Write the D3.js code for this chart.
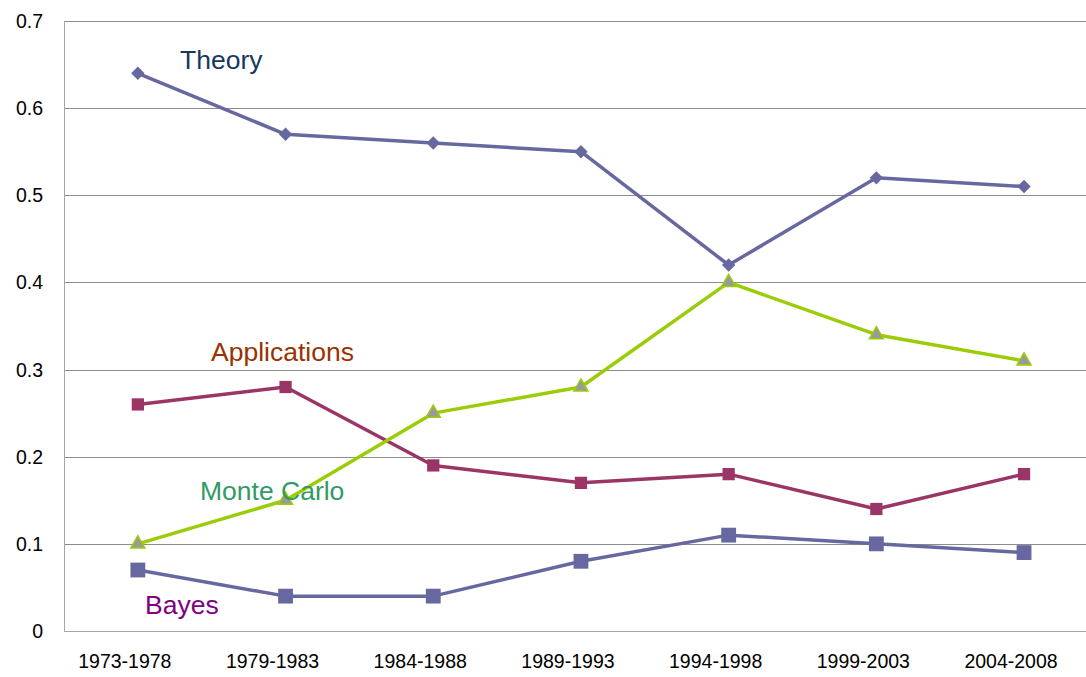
<!DOCTYPE html>
<html>
<head>
<meta charset="utf-8">
<script src="https://cdn.jsdelivr.net/npm/d3@7"></script>
<style>
  body { margin: 0; background: #fff; }
  svg { display: block; font-family: "Liberation Sans", Arial, sans-serif; }
</style>
</head>
<body>
<svg id="chart" width="1086" height="677"></svg>
<script>
// periods along the x axis
var periods = ["1973-1978", "1979-1983", "1984-1988", "1989-1993", "1994-1998", "1999-2003", "2004-2008"];
var yTicks = [0, 0.1, 0.2, 0.3, 0.4, 0.5, 0.6, 0.7];

var theory = [0.64, 0.57, 0.56, 0.55, 0.42, 0.52, 0.51];
var applications = [0.26, 0.28, 0.19, 0.17, 0.18, 0.14, 0.18];
var monteCarlo = [0.10, 0.15, 0.25, 0.28, 0.40, 0.34, 0.31];
var bayes = [0.07, 0.04, 0.04, 0.08, 0.11, 0.10, 0.09];

var svg = d3.select("#chart");
var plotLeft = 64, plotTop = 21, plotBottom = 631;
// plot runs a little past the right edge, like the original
var plotRight = 64 + 147.7 * 7;

var x = d3.scaleBand().domain(periods).range([plotLeft, plotRight]);
var y = d3.scaleLinear().domain([0, 0.7]).range([plotBottom, plotTop]);

/**
 * Gridlines and axis lines.
 */
svg.append("g").selectAll("line").data(yTicks).join("line")
    .attr("x1", plotLeft).attr("x2", plotRight)
    .attr("y1", function (d) { return Math.round(y(d)) + 0.5; })
    .attr("y2", function (d) { return Math.round(y(d)) + 0.5; })
    .attr("stroke", function (d) { return d === 0 ? "#a6a6a6" : "#8c8c8c"; })
    .attr("stroke-width", 1);
svg.append("line")
    .attr("x1", plotLeft + 0.5).attr("x2", plotLeft + 0.5)
    .attr("y1", plotTop).attr("y2", plotBottom + 0.5)
    .attr("stroke", "#a6a6a6");

/**
 * Tick labels. The category labels sit a bit left of their markers.
 */
svg.append("g").selectAll("text").data(yTicks).join("text")
    .attr("x", 43).attr("y", function (d) { return y(d) + 7; })
    .attr("text-anchor", "end")
    .attr("font-size", 19.5)
    .text(function (d) { return d === 0 ? "0" : d3.format(".1f")(d); });

svg.append("g").selectAll("text").data(periods).join("text")
    .attr("x", function (d) { return x(d) + x.bandwidth() / 2 - 13; })
    .attr("y", 668)
    .attr("text-anchor", "middle")
    .attr("font-size", 19.5)
    .text(function (d) { return d; });

/**
 * Series lines and markers.
 */
var series = [
    { values: theory, line: "#6868a0", fill: "#6868a0", stroke: "none", symbol: d3.symbolSquare, size: 90, rotate: 45 },
    { values: applications, line: "#9b3565", fill: "#9b3565", stroke: "none", symbol: d3.symbolSquare, size: 150, rotate: 0 },
    { values: monteCarlo, line: "#9acd07", fill: "#9a9a9a", stroke: "#9acd07", symbol: d3.symbolTriangle, size: 85, rotate: 0 },
    { values: bayes, line: "#6868a0", fill: "#6868a0", stroke: "none", symbol: d3.symbolSquare, size: 220, rotate: 0 }
];

var line = d3.line()
    .x(function (d, i) { return x(periods[i]) + x.bandwidth() / 2; })
    .y(function (d) { return y(d); });

series.forEach(function (s) {
    var g = svg.append("g");
    g.append("path")
        .attr("d", line(s.values))
        .attr("fill", "none")
        .attr("stroke", s.line)
        .attr("stroke-width", 3.5)
        .attr("stroke-linejoin", "round");
    g.selectAll("path.m").data(s.values).join("path")
        .attr("class", "m")
        .attr("d", d3.symbol().type(s.symbol).size(s.size))
        .attr("transform", function (d, i) {
            return "translate(" + (x(periods[i]) + x.bandwidth() / 2) + "," + y(d) + ") rotate(" + s.rotate + ")";
        })
        .attr("fill", s.fill)
        .attr("stroke", s.stroke)
        .attr("stroke-width", 1.5);
});

/**
 * Series labels placed in the plot.
 */
var labels = [
    ["Theory", 180, 69, "#17375e"],
    ["Applications", 211, 361, "#993300"],
    ["Monte Carlo", 200, 500, "#339966"],
    ["Bayes", 145, 614, "#800080"]
];
svg.append("g").selectAll("text").data(labels).join("text")
    .attr("x", function (d) { return d[1]; })
    .attr("y", function (d) { return d[2]; })
    .attr("fill", function (d) { return d[3]; })
    .attr("font-size", 26.5)
    .text(function (d) { return d[0]; });
</script>
</body>
</html>
